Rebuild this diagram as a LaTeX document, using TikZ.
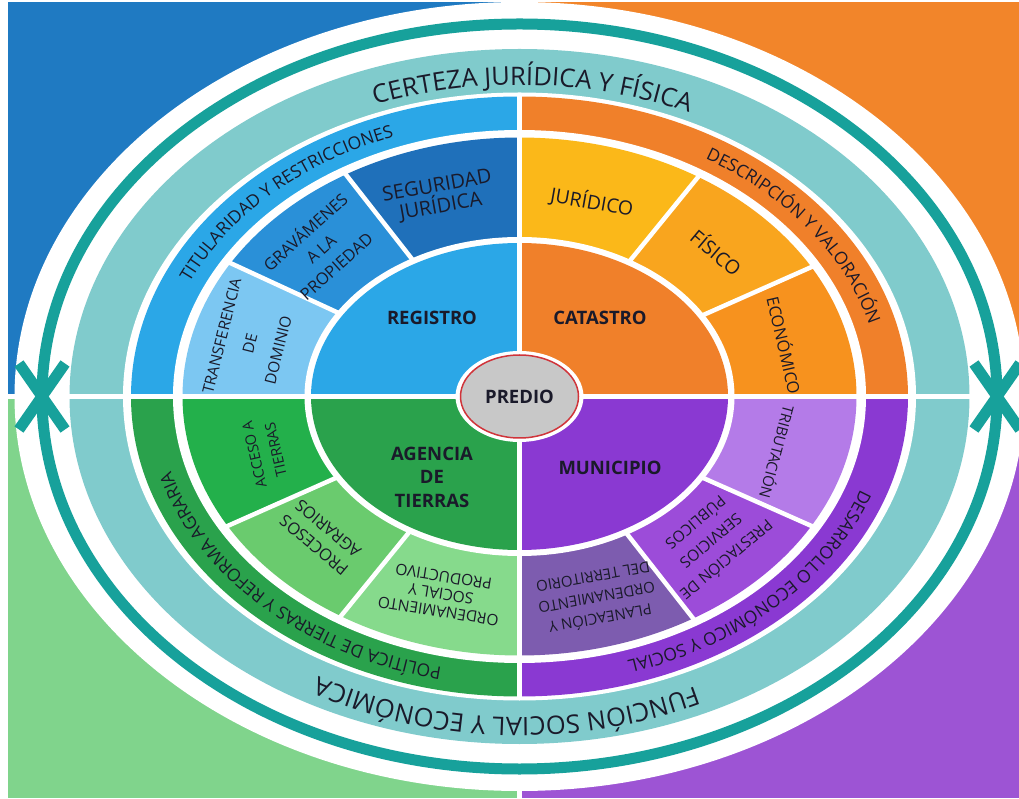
\documentclass[tikz,border=0pt]{standalone}
\usepackage{fontspec}
\setmainfont{Open Sans}
\setsansfont{Open Sans}
\usetikzlibrary{calc,decorations.text,shapes.geometric}
\definecolor{bgTL}{HTML}{1F7AC2}
\definecolor{bgTR}{HTML}{F2852A}
\definecolor{bgBL}{HTML}{80D48C}
\definecolor{bgBR}{HTML}{9D54D4}
\definecolor{tealc}{HTML}{17A19B}
\definecolor{lteal}{HTML}{80CBCC}
\definecolor{bBand}{HTML}{2BA7E7}
\definecolor{oBand}{HTML}{F0802A}
\definecolor{pBand}{HTML}{8A39D2}
\definecolor{gBand}{HTML}{2AA24C}
\definecolor{segA}{HTML}{1F70BA}
\definecolor{segB}{HTML}{2A90D8}
\definecolor{segC}{HTML}{7CC7F2}
\definecolor{segD}{HTML}{FBB819}
\definecolor{segE}{HTML}{F9A51E}
\definecolor{segF}{HTML}{F7921E}
\definecolor{segG}{HTML}{B47BE8}
\definecolor{segH}{HTML}{9C4CD9}
\definecolor{segI}{HTML}{7D5CAF}
\definecolor{segJ}{HTML}{86DA8C}
\definecolor{segK}{HTML}{6ACB6E}
\definecolor{segL}{HTML}{23B04B}
\definecolor{predgray}{HTML}{C8C8C8}
\definecolor{predred}{HTML}{D0343A}
\definecolor{txtc}{HTML}{1A1A2A}
\newcommand\quadfill[5]{%
  \fill[#1] (C) -- ([shift={(#2:#4 and #5)}]C) arc[start angle=#2,end angle=#3,x radius=#4,y radius=#5] -- cycle;}
\newcommand\arctext[6]{%
  \path[decorate,decoration={text along path,text align=center,text color=txtc,text={|\fontsize{#5}{#5}\selectfont|#6}}] ([shift={(#3:#1 and #2)}]C) arc[start angle=#3,end angle=#4,x radius=#1,y radius=#2];}
\newcommand\sepline[1]{\draw[white,line width=4.5pt] (C) -- ([shift={(#1:345pt and 265pt)}]C);}
\begin{document}
\begin{tikzpicture}[x=1pt,y=1pt,
  lbl/.style={text=txtc,align=center,inner sep=0pt},
  core/.style={text=txtc,align=center,inner sep=0pt,font=\bfseries\fontsize{18.5}{23.5}\selectfont},
  chev/.style={draw=tealc,line width=11pt,line join=miter,miter limit=10}]
\useasboundingbox (0,0) rectangle (1019,798);
\fill[white] (0,0) rectangle (1019,798);
\coordinate (C) at (519.5,401.5);
% background quadrants
\fill[bgTL] (8,403.75) rectangle (517.25,796);
\fill[bgTR] (521.75,403.75) rectangle (1019,796);
\fill[bgBL] (8,0) rectangle (517.25,399.25);
\fill[bgBR] (521.75,0) rectangle (1019,399.25);
% outer white ellipse
\fill[white] (C) ellipse[x radius=505pt,y radius=394.5pt];
% teal arrows
\draw[tealc,line width=11pt] ([shift={(0:477.5pt and 372.5pt)}]C) arc[start angle=0,end angle=180,x radius=477.5pt,y radius=372.5pt];
\draw[tealc,line width=11pt] ([shift={(0:477.5pt and 372.5pt)}]C) arc[start angle=0,end angle=-180,x radius=477.5pt,y radius=372.5pt];
\coordinate (XL) at ($(C)+(-477.5,0)$);
\coordinate (XR) at ($(C)+(477.5,0)$);
\draw[chev] ($(XL)+(-23,33)$) -- (XL) -- ($(XL)+(23,33)$);
\draw[chev] ($(XL)+(-23,-33)$) -- (XL) -- ($(XL)+(23,-33)$);
\draw[chev] ($(XR)+(-23,33)$) -- (XR) -- ($(XR)+(23,33)$);
\draw[chev] ($(XR)+(-23,-33)$) -- (XR) -- ($(XR)+(23,-33)$);
% light teal band
\fill[lteal] (C) ellipse[x radius=450pt,y radius=347.5pt];
\fill[white] (C) ellipse[x radius=396.5pt,y radius=304pt];
% coloured band
\quadfill{bBand}{90}{180}{388.5pt}{300pt}
\quadfill{oBand}{0}{90}{388.5pt}{300pt}
\quadfill{pBand}{-90}{0}{388.5pt}{300pt}
\quadfill{gBand}{-180}{-90}{388.5pt}{300pt}
\fill[white] (C) ellipse[x radius=346.5pt,y radius=266.5pt];
% ring segments
\quadfill{segA}{90}{121}{337pt}{259pt}
\quadfill{segB}{121}{149}{337pt}{259pt}
\quadfill{segC}{149}{180}{337pt}{259pt}
\quadfill{segD}{58}{90}{337pt}{259pt}
\quadfill{segE}{30}{58}{337pt}{259pt}
\quadfill{segF}{0}{30}{337pt}{259pt}
\quadfill{segG}{-30}{0}{337pt}{259pt}
\quadfill{segH}{-59}{-30}{337pt}{259pt}
\quadfill{segI}{-90}{-59}{337pt}{259pt}
\quadfill{segJ}{-122}{-90}{337pt}{259pt}
\quadfill{segK}{-150}{-122}{337pt}{259pt}
\quadfill{segL}{-180}{-150}{337pt}{259pt}
\sepline{121}\sepline{149}\sepline{58}\sepline{30}
\sepline{-30}\sepline{-59}\sepline{-122}\sepline{-150}
\fill[white] (C) ellipse[x radius=215pt,y radius=159.5pt];
% core
\quadfill{bBand}{90}{180}{208.5pt}{153.5pt}
\quadfill{oBand}{0}{90}{208.5pt}{153.5pt}
\quadfill{pBand}{-90}{0}{208.5pt}{153.5pt}
\quadfill{gBand}{-180}{-90}{208.5pt}{153.5pt}
% cross gaps
\draw[white,line width=4.5pt] ($(C)+(0,302)$) -- ($(C)+(0,-302)$);
\draw[white,line width=4.5pt] ($(C)+(-451,0)$) -- ($(C)+(451,0)$);
% centre
\fill[white] (C) ellipse[x radius=64pt,y radius=45.5pt];
\node[ellipse,draw=predred,line width=1.5pt,fill=predgray,minimum width=118pt,minimum height=83pt,inner sep=0pt,text=txtc,font=\bfseries\fontsize{18.5}{20}\selectfont] (predio) at (C) {PREDIO};
% arc texts
\arctext{410pt}{311.5pt}{128}{48}{25.5}{CERTEZA JURÍDICA Y FÍSICA}
\arctext{410pt}{321pt}{-52}{-132}{25.5}{FUNCIÓN SOCIAL Y ECONÓMICA}
\arctext{362pt}{277pt}{175}{95}{17.5}{TITULARIDAD Y RESTRICCIONES}
\arctext{362pt}{277pt}{75}{-5}{17.5}{DESCRIPCIÓN Y VALORACIÓN}
\arctext{362pt}{277pt}{-4.5}{-84.5}{17.5}{DESARROLLO ECONÓMICO Y SOCIAL}
\arctext{362pt}{277pt}{-94.5}{-174.5}{17.5}{POLÍTICA DE TIERRAS Y REFORMA AGRARIA}
% core labels
\node[core] (registro) at (432,480) {REGISTRO};
\node[core] (catastro) at (600,480) {CATASTRO};
\node[core] (agencia) at (432,321) {AGENCIA\\DE\\TIERRAS};
\node[core] (municipio) at (610,330) {MUNICIPIO};
% ring labels
\node[lbl,rotate=10,font=\fontsize{20}{21}\selectfont] (seguridad) at (439,601) {SEGURIDAD\\JURÍDICA};
\node[lbl,rotate=42,font=\fontsize{16.5}{23}\selectfont] (gravamenes) at (320,550) {GRAVÁMENES\\A LA\\PROPIEDAD};
\node[lbl,rotate=76,font=\fontsize{15.5}{29}\selectfont] (transferencia) at (250,455) {TRANSFERENCIA\\DE\\DOMINIO};
\node[lbl,rotate=-10,font=\fontsize{19.5}{21}\selectfont] (juridico) at (592,596) {JURÍDICO};
\node[lbl,rotate=-40,font=\fontsize{19.5}{21}\selectfont] (fisico) at (717,546) {FÍSICO};
\node[lbl,rotate=-77,font=\fontsize{16.5}{21}\selectfont] (economico) at (785,453) {ECONÓMICO};
\node[lbl,rotate=-105,font=\fontsize{15}{21}\selectfont] (tributacion) at (778,346) {TRIBUTACIÓN};
\node[lbl,rotate=-140,font=\fontsize{15.5}{24}\selectfont] (prestacion) at (712,256) {PRESTACIÓN DE\\SERVICIOS\\PÚBLICOS};
\node[lbl,rotate=-170,font=\fontsize{15}{21}\selectfont] (planeacion) at (597,199) {PLANEACIÓN Y\\ORDENAMIENTO\\DEL TERRITORIO};
\node[lbl,rotate=171,font=\fontsize{15.5}{17.5}\selectfont] (ordenamiento) at (441,204) {ORDENAMIENTO\\SOCIAL Y\\PRODUCTIVO};
\node[lbl,rotate=140,font=\fontsize{16.5}{22}\selectfont] (procesos) at (321,261) {PROCESOS\\AGRARIOS};
\node[lbl,rotate=103,font=\fontsize{14.5}{22}\selectfont] (acceso) at (265,346) {ACCESO A\\TIERRAS};
\end{tikzpicture}
\end{document}
